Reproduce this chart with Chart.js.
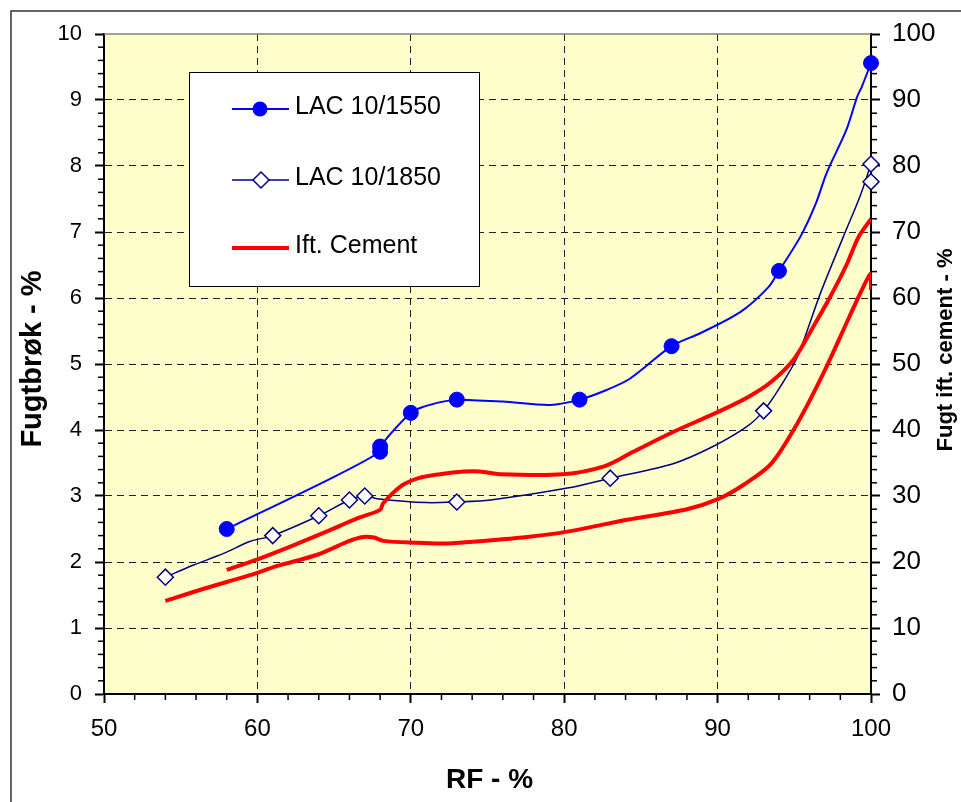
<!DOCTYPE html>
<html>
<head>
<meta charset="utf-8">
<script src="https://cdn.jsdelivr.net/npm/chart.js@4.4.1/dist/chart.umd.min.js"></script>
<style>
  html, body { margin: 0; padding: 0; background: #fff; }
  #wrap { position: relative; width: 961px; height: 802px; }
</style>
</head>
<body>
<div id="wrap"><canvas id="c" width="961" height="802"></canvas></div>
<script>
const FONT = "'Liberation Sans', Arial, sans-serif";

// ── Measured points (markers) ──
const rf1550  = [58, 68, 68, 70, 73, 81, 87, 94, 100];
const lac1550 = [2.50, 3.67, 3.75, 4.26, 4.46, 4.46, 5.27, 6.41, 9.56];
const rf1850  = [54, 61, 64, 66, 67, 73, 83, 93, 100, 100];
const lac1850 = [1.77, 2.40, 2.70, 2.94, 3.00, 2.91, 3.27, 4.29, 7.76, 8.03];

// ── Smoothed curves ──
const rf1550Curve  = [58, 65, 68, 68, 70, 70.8, 72.1, 73, 76, 79.1, 81, 82.8, 84.3, 87, 88.9, 91.5, 93.3, 94, 95.4, 96.4, 97.1, 98.4, 99.1, 99.4, 100];
const lac1550Curve = [2.50, 3.29, 3.67, 3.75, 4.26, 4.35, 4.43, 4.46, 4.43, 4.38, 4.46, 4.61, 4.78, 5.27, 5.47, 5.79, 6.16, 6.41, 6.93, 7.43, 7.89, 8.55, 9.05, 9.20, 9.56];

const rf1850Curve  = [54, 55.8, 57.8, 59.5, 61, 64, 66, 67, 67.8, 71, 73, 75.2, 80.2, 83, 87.1, 89.7, 91.9, 93, 94.1, 95.2, 96.7, 98.2, 99.3, 100];
const lac1850Curve = [1.77, 1.95, 2.13, 2.31, 2.40, 2.70, 2.94, 3.00, 2.96, 2.90, 2.91, 2.94, 3.12, 3.27, 3.49, 3.75, 4.05, 4.29, 4.66, 5.11, 6.07, 6.93, 7.55, 8.03];

// Ift. cement (right axis, %)
const rfCemUp  = [58, 60, 62.1, 64.7, 66.5, 68, 68.2, 69.3, 70.5, 71.9, 73.5, 74.5, 75.8, 79.9, 82.6, 84.5, 87.1, 90, 92, 93.5, 95, 96.2, 97.3, 98.4, 99.2, 100];
const cemUp    = [18.8, 20.4, 22.3, 24.8, 26.6, 27.9, 28.9, 31.4, 32.7, 33.3, 33.7, 33.7, 33.3, 33.3, 34.5, 36.7, 39.7, 42.7, 45.0, 47.3, 50.8, 55.5, 60.0, 65.0, 69.3, 72.0];
const rfCemLow = [54, 56.3, 59.5, 61.3, 63.9, 66, 66.9, 67.6, 68.2, 70.4, 72.1, 73.6, 77.6, 80.2, 84.1, 88, 90.1, 91.7, 93.5, 95.2, 96.9, 98.6, 99.5, 100, 100];
const cemLow   = [14.1, 15.8, 18.0, 19.4, 21.1, 23.2, 23.8, 23.7, 23.2, 22.9, 22.8, 23.0, 23.8, 24.6, 26.4, 28.0, 29.6, 31.7, 34.9, 41.0, 48.6, 57.2, 61.7, 63.7, 61.2];

const pts = (xs, ys) => xs.map((x, i) => ({ x, y: ys[i] }));

// ── Decorations: plot fill, frame, minor ticks, titles, legend ──
const decor = {
  id: 'decor',
  beforeDraw(chart) {
    const { ctx, chartArea: a } = chart;
    ctx.save();
    ctx.fillStyle = '#FFFFCC';
    ctx.fillRect(a.left, a.top, a.right - a.left, a.bottom - a.top);
    ctx.strokeStyle = '#333';
    ctx.lineWidth = 1.5;
    ctx.beginPath();
    ctx.moveTo(11, 802); ctx.lineTo(11, 11); ctx.lineTo(961, 11);
    ctx.stroke();
    ctx.restore();
  },
  beforeDatasetsDraw(chart) {
    const { ctx, chartArea: a, scales } = chart;
    const ln = (x1, y1, x2, y2) => { ctx.beginPath(); ctx.moveTo(x1, y1); ctx.lineTo(x2, y2); ctx.stroke(); };
    ctx.save();
    ctx.strokeStyle = '#808080';
    ctx.lineWidth = 1.5;
    ln(a.left, a.top, a.right, a.top);
    ctx.strokeStyle = '#000';
    ctx.lineWidth = 1.5;
    for (let v = 52; v < 100; v += 2) if (v % 10) { const p = scales.x.getPixelForValue(v); ln(p, a.bottom, p, a.bottom + 6); }
    for (let k = 1; k < 50; k++) if (k % 5) { const p = scales.y.getPixelForValue(k / 5); ln(a.left - 6, p, a.left, p); }
    for (let v = 2; v < 100; v += 2) if (v % 10) { const p = scales.y2.getPixelForValue(v); ln(a.right, p, a.right + 6, p); }
    ctx.restore();
  },
  afterDraw(chart) {
    const { ctx, chartArea: a } = chart;
    ctx.save();
    ctx.fillStyle = '#000';
    ctx.textAlign = 'center';
    ctx.textBaseline = 'middle';
    ctx.font = `bold 28px ${FONT}`;
    ctx.fillText('RF - %', (a.left + a.right) / 2 + 2, 780);

    ctx.save();
    ctx.translate(33, 359); ctx.rotate(-Math.PI / 2);
    ctx.font = `bold 29px ${FONT}`;
    ctx.fillText('Fugtbrøk - %', 0, 0);
    ctx.restore();

    ctx.save();
    ctx.translate(946, 350); ctx.rotate(-Math.PI / 2);
    ctx.font = `bold 22px ${FONT}`;
    ctx.fillText('Fugt ift. cement - %', 0, 0);
    ctx.restore();

    // legend box
    ctx.fillStyle = '#fff';
    ctx.fillRect(189, 72, 290, 214);
    ctx.strokeStyle = '#000';
    ctx.lineWidth = 1;
    ctx.strokeRect(189.5, 72.5, 290, 214);

    const rows = [
      { y: 109, text: 'LAC 10/1550', color: '#0000FF', w: 2, mark: 'circle' },
      { y: 180, text: 'LAC 10/1850', color: '#000080', w: 1.5, mark: 'diamond' },
      { y: 248, text: 'Ift. Cement', color: '#FF0000', w: 4, mark: null }
    ];
    rows.forEach(r => {
      ctx.strokeStyle = r.color;
      ctx.lineWidth = r.w;
      ctx.beginPath(); ctx.moveTo(232, r.y); ctx.lineTo(289, r.y); ctx.stroke();
      if (r.mark === 'circle') {
        ctx.fillStyle = r.color;
        ctx.beginPath(); ctx.arc(260, r.y, 7.5, 0, Math.PI * 2); ctx.fill();
      } else if (r.mark === 'diamond') {
        ctx.fillStyle = '#fff';
        ctx.lineWidth = 1.5;
        ctx.beginPath();
        ctx.moveTo(261, r.y - 8); ctx.lineTo(269, r.y); ctx.lineTo(261, r.y + 8); ctx.lineTo(253, r.y);
        ctx.closePath(); ctx.fill(); ctx.stroke();
      }
      ctx.fillStyle = '#000';
      ctx.textAlign = 'left';
      ctx.font = `25px ${FONT}`;
      ctx.fillText(r.text, 295, r.y - 2);
    });
    ctx.restore();
  }
};

const edge = (lo, hi) => c => (c.tick && (c.tick.value === lo || c.tick.value === hi)) ? 'rgba(0,0,0,0)' : '#222';

new Chart(document.getElementById('c').getContext('2d'), {
  type: 'scatter',
  data: {
    datasets: [
      { label: 'LAC 10/1550', data: pts(rf1550, lac1550), showLine: false, pointStyle: 'circle', pointRadius: 7.5, backgroundColor: '#0000FF', borderColor: '#0000FF', clip: false, order: 0 },
      { label: 'LAC 10/1850', data: pts(rf1850, lac1850), showLine: false, pointStyle: 'rectRot', pointRadius: 8, backgroundColor: '#fff', borderColor: '#000080', borderWidth: 1.5, clip: false, order: 0 },
      { label: 'Ift. Cement', data: pts(rfCemUp, cemUp), yAxisID: 'y2', showLine: true, borderColor: '#FF0000', borderWidth: 4, pointRadius: 0, tension: 0.3, order: 1 },
      { label: 'Ift. Cement 2', data: pts(rfCemLow, cemLow), yAxisID: 'y2', showLine: true, borderColor: '#FF0000', borderWidth: 4, pointRadius: 0, tension: 0.3, order: 1 },
      { label: '1550 curve', data: pts(rf1550Curve, lac1550Curve), showLine: true, borderColor: '#0000FF', borderWidth: 2, pointRadius: 0, tension: 0.3, order: 2 },
      { label: '1850 curve', data: pts(rf1850Curve, lac1850Curve), showLine: true, borderColor: '#000080', borderWidth: 1.5, pointRadius: 0, tension: 0.3, order: 2 }
    ]
  },
  options: {
    responsive: false,
    animation: false,
    events: [],
    layout: { padding: { top: 34, left: 0, right: 0, bottom: 0 } },
    plugins: { legend: { display: false }, tooltip: { enabled: false } },
    scales: {
      x: {
        type: 'linear', position: 'bottom', min: 50, max: 100,
        ticks: { stepSize: 10, color: '#000', font: { family: FONT, size: 24 }, padding: 12, maxRotation: 0 },
        grid: { color: edge(50, 100), lineWidth: 1, tickLength: 9, tickColor: '#000', tickWidth: 2, tickBorderDash: [] },
        border: { color: '#000', width: 2, dash: [7, 5] },
        afterFit: s => { s.height = 108; }
      },
      y: {
        position: 'left', min: 0, max: 10,
        ticks: { stepSize: 1, color: '#000', font: { family: FONT, size: 22 }, padding: 13 },
        grid: { color: edge(0, 10), lineWidth: 1, tickLength: 9, tickColor: '#000', tickWidth: 2, tickBorderDash: [] },
        border: { color: '#000', width: 2, dash: [7, 5] },
        afterFit: s => { s.width = 104; }
      },
      y2: {
        position: 'right', min: 0, max: 100,
        ticks: { stepSize: 10, color: '#000', font: { family: FONT, size: 26 }, padding: 12 },
        grid: { drawOnChartArea: false, tickLength: 9, tickColor: '#000', tickWidth: 2, tickBorderDash: [] },
        border: { color: '#000', width: 2 },
        afterFit: s => { s.width = 90; }
      }
    }
  },
  plugins: [decor]
});
</script>
</body>
</html>
